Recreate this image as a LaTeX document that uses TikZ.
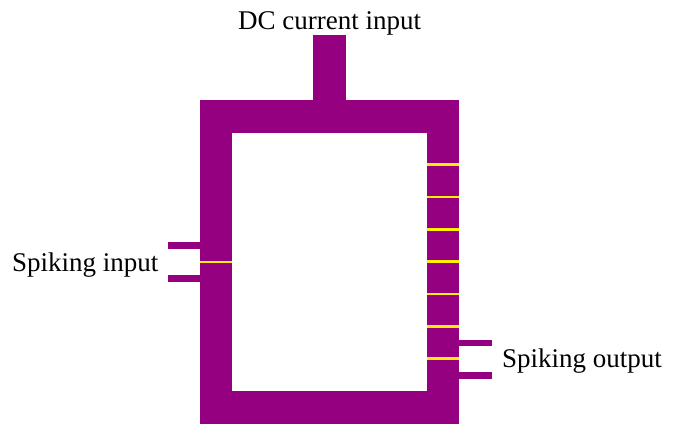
\documentclass[tikz,border=0pt]{standalone}
\usepackage{fontspec}
\setmainfont{Liberation Serif}
\definecolor{neuron}{RGB}{148,0,128}
\definecolor{syn}{RGB}{255,240,0}
\begin{document}
\begin{tikzpicture}[x=1pt,y=-1pt,
  lbl/.style={anchor=base west,inner sep=0pt,font=\fontsize{27}{32}\selectfont},
  bar/.style={fill=neuron,draw=none},
  synline/.style={draw=syn,line width=2.6pt}]
\useasboundingbox (0,0) rectangle (675,424);
% body
\fill[neuron] (200,100) rectangle (459,424);
\fill[white] (232,133) rectangle (427,391);
% DC input stub
\fill[neuron] (313,35) rectangle (346,100.5);
% spiking input stubs
\fill[neuron] (168,242) rectangle (200.5,249);
\fill[neuron] (168,275) rectangle (200.5,282);
% spiking output stubs
\fill[neuron] (458.5,339.5) rectangle (492,346);
\fill[neuron] (458.5,372) rectangle (492,378.5);
% synapse lines
\draw[synline] (200,262) -- (232,262);
\foreach \yy in {164.7,197,229.3,261.7,294,326.3,358.7}
  \draw[synline] (427,\yy) -- (459,\yy);
% labels
\node[lbl] (dc) at (238,29.3) {DC current input};
\node[lbl] (sin) at (12,271.7) {Spiking input};
\node[lbl] (sout) at (502,367.5) {Spiking output};
\end{tikzpicture}
\end{document}
